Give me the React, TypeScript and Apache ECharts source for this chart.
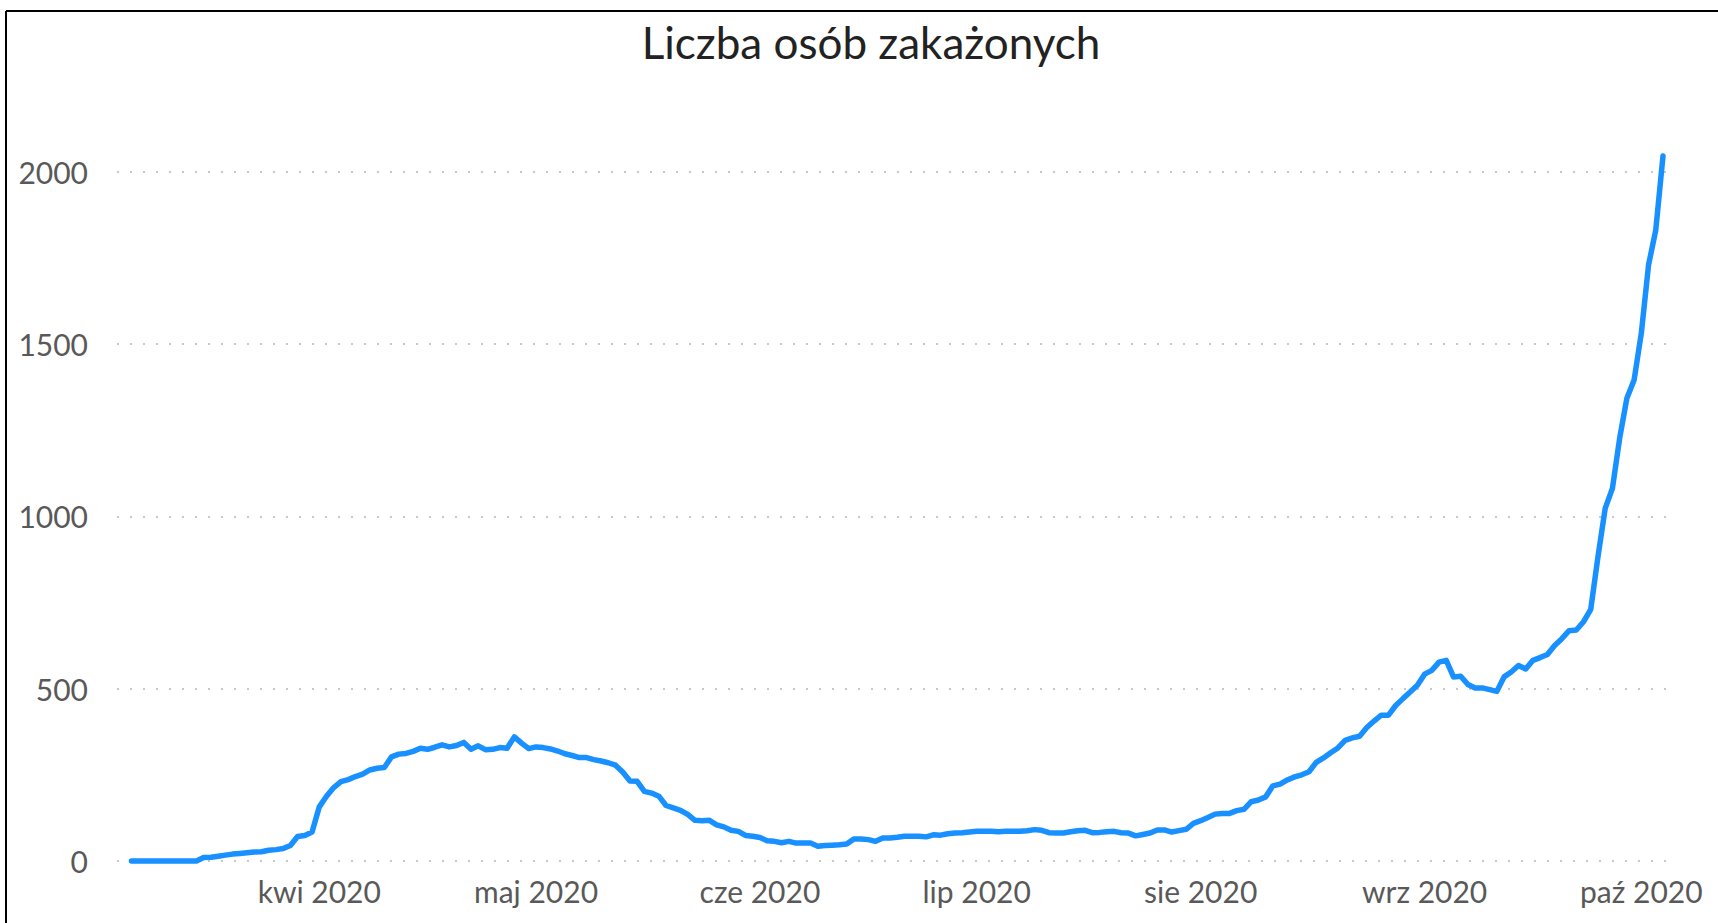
import React, { useEffect, useRef } from "react";
import * as echarts from "echarts";

const TITLE = "Liczba osób zakażonych";
const START_DATE = "2020-03-06";

// daily values, split by month (first series day = 6 March 2020)
const marchValues = [0, 0, 0, 0, 0, 0, 0, 0, 0, 0, 10, 11, 14, 17, 20, 22, 24, 26, 27, 31, 33, 36, 45, 71, 74, 84];
const aprilValues = [157, 188, 213, 230, 236, 245, 252, 264, 269, 271, 302, 310, 312, 318, 327, 324, 330, 337, 331, 335, 344, 324, 334, 323, 324, 329, 327, 360, 342, 326];
const mayValues = [331, 329, 325, 319, 311, 306, 300, 300, 294, 290, 285, 278, 258, 232, 231, 202, 197, 188, 161, 154, 147, 135, 118, 117, 118, 105, 99, 89, 86, 74, 72];
const juneValues = [68, 59, 57, 53, 57, 52, 52, 52, 43, 45, 46, 47, 49, 64, 64, 62, 57, 67, 67, 69, 72, 72, 72, 70, 76, 75, 79, 81, 82, 84];
const julyValues = [86, 86, 86, 85, 86, 86, 86, 88, 91, 89, 82, 81, 81, 85, 88, 89, 82, 83, 85, 86, 82, 81, 73, 77, 81, 90, 90, 84, 88, 92, 109];
const augustValues = [117, 126, 136, 138, 138, 146, 150, 172, 177, 186, 218, 223, 235, 244, 250, 259, 286, 299, 314, 328, 350, 357, 362, 387, 406, 423, 423, 451, 471, 490, 510];
const septemberValues = [542, 553, 577, 582, 534, 536, 512, 502, 502, 497, 492, 534, 548, 567, 557, 582, 590, 599, 625, 645, 668, 670, 694, 730, 883, 1023, 1081, 1226, 1342, 1395];
const octoberValues = [1531, 1729, 1830, 2045];

const monthTickDates = ["2020-04-01", "2020-05-01", "2020-06-01", "2020-07-01", "2020-08-01", "2020-09-01", "2020-10-01"];
const monthTickLabels = ["kwi 2020", "maj 2020", "cze 2020", "lip 2020", "sie 2020", "wrz 2020", "paź 2020"];
const yTicks = [0, 500, 1000, 1500, 2000];

const DAY = 86400000;
const dayIndex = (d: string) => Math.round((Date.parse(d + "T00:00:00Z") - Date.parse(START_DATE + "T00:00:00Z")) / DAY);

export default function App() {
  const ref = useRef<HTMLDivElement>(null);
  useEffect(() => {
    if (!ref.current) return;
    const chart = echarts.init(ref.current, null, { renderer: "svg" });
    const values = [
      ...marchValues, ...aprilValues, ...mayValues, ...juneValues,
      ...julyValues, ...augustValues, ...septemberValues, ...octoberValues,
    ];
    const data = values.map((v, i) => [i, v]);
    const tickIdx = monthTickDates.map(dayIndex);
    const font = "Lato, 'Open Sans', sans-serif";
    chart.setOption({
      animation: false,
      backgroundColor: "#ffffff",
      grid: { left: 117, right: 42, top: 171.5, bottom: 62, containLabel: false },
      graphic: [
        { type: "line", shape: { x1: 6, y1: 11, x2: 1718, y2: 11 }, style: { stroke: "#000", lineWidth: 2 } },
        { type: "line", shape: { x1: 6, y1: 11, x2: 6, y2: 923 }, style: { stroke: "#000", lineWidth: 2 } },
        {
          type: "text",
          x: 871,
          y: 42,
          style: {
            text: TITLE,
            font: `44px ${font}`,
            fill: "#222222",
            textAlign: "center",
            textVerticalAlign: "middle",
          },
        },
      ],
      xAxis: {
        type: "value",
        min: -2,
        max: 213.8,
        axisLine: { show: false },
        axisTick: { show: false },
        splitLine: { show: false },
        axisLabel: {
          customValues: tickIdx,
          formatter: (v: number) => {
            const k = tickIdx.indexOf(Math.round(v));
            return k >= 0 ? monthTickLabels[k] : "";
          },
          fontFamily: font,
          fontSize: 30,
          color: "#595959",
          margin: 15,
        },
      },
      yAxis: {
        type: "value",
        min: yTicks[0],
        max: yTicks[yTicks.length - 1],
        interval: 500,
        axisLine: { show: false },
        axisTick: { show: false },
        axisLabel: {
          fontFamily: font,
          fontSize: 30,
          color: "#595959",
          margin: 29,
          formatter: (v: number) => String(v),
        },
        splitLine: { show: true, lineStyle: { color: "#c8c8c8", width: 2, type: [2, 11] } },
      },
      series: [
        {
          type: "line",
          data,
          clip: false,
          symbol: "none",
          showSymbol: false,
          lineStyle: { color: "#1890ff", width: 5.5, cap: "round", join: "round" },
        },
      ],
    });
    return () => chart.dispose();
  }, []);
  return <div ref={ref} style={{ position: "fixed", left: 0, top: 0, width: 1718, height: 923 }} />;
}
